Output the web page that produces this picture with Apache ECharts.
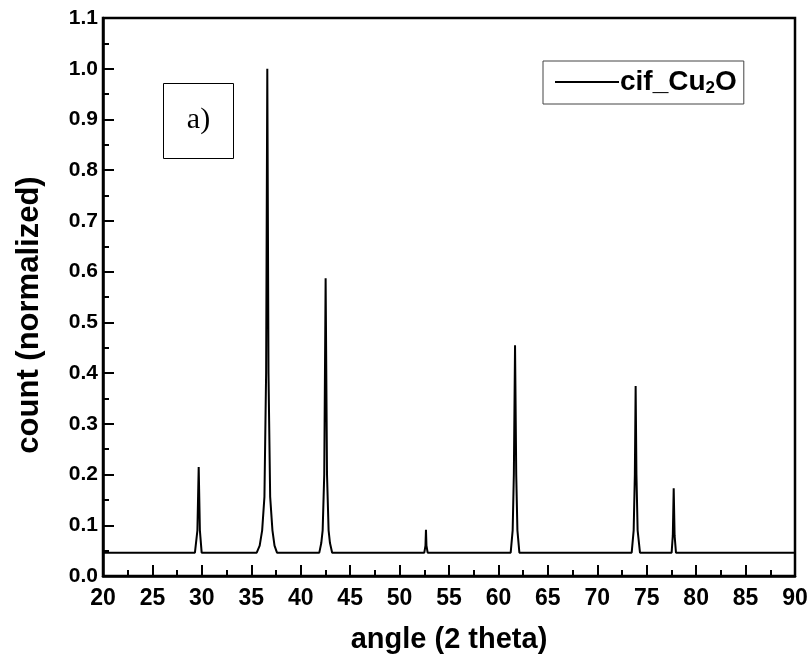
<!DOCTYPE html>
<html>
<head>
<meta charset="utf-8">
<script src="https://cdn.jsdelivr.net/npm/echarts@6/dist/echarts.min.js"></script>
<style>html,body{margin:0;padding:0;background:#fff}#c{width:812px;height:667px}</style>
</head>
<body>
<div id="c"></div>
<script>
// Data
var angle = [20, 29.30, 29.55, 29.68, 29.80, 29.98,
  35.55, 35.85, 36.10, 36.33, 36.50, 36.62, 36.74, 36.91, 37.14, 37.35, 37.60,
  41.88, 42.08, 42.22, 42.38, 42.52, 42.66, 42.82, 42.96, 43.18,
  52.50, 52.62, 52.67, 52.72, 52.84,
  61.24, 61.44, 61.56, 61.68, 61.80, 61.92, 62.12,
  73.48, 73.68, 73.80, 73.88, 73.96, 74.08, 74.32,
  77.52, 77.64, 77.73, 77.82, 77.96, 90];
var count = [0.046, 0.046, 0.09, 0.215, 0.09, 0.046,
  0.046, 0.06, 0.09, 0.156, 0.40, 1.0, 0.40, 0.156, 0.09, 0.06, 0.046,
  0.046, 0.065, 0.09, 0.20, 0.587, 0.20, 0.09, 0.065, 0.046,
  0.046, 0.06, 0.091, 0.06, 0.046,
  0.046, 0.09, 0.20, 0.455, 0.20, 0.09, 0.046,
  0.046, 0.09, 0.20, 0.3745, 0.20, 0.09, 0.046,
  0.046, 0.08, 0.173, 0.08, 0.046, 0.046];
var seriesName = 'cif_Cu2O';
var xTitle = 'angle (2 theta)';
var yTitle = 'count (normalized)';

var data = angle.map(function (a, i) { return [a, count[i]]; });
var chart = echarts.init(document.getElementById('c'));
var lab = {color: '#000', fontFamily: 'Liberation Sans, Arial', fontWeight: 'bold'};
chart.setOption({
  animation: false,
  backgroundColor: '#fff',
  grid: {left: 103, right: 17, top: 18, bottom: 91, show: true, borderColor: '#000', borderWidth: 2.5},
  legend: {
    top: 61, left: 543, padding: [7, 7, 7, 12],
    borderColor: '#444', borderWidth: 1, itemWidth: 64, itemHeight: 2, icon: 'rect', itemGap: 0,
    data: [seriesName],
    formatter: function () { return '{a|cif_Cu}{s|2}{a|O}'; },
    textStyle: {padding: [0, 0, 0, -4], rich: {
      a: {fontSize: 28, fontWeight: 'bold', fontFamily: 'Liberation Sans, Arial', color: '#000'},
      s: {fontSize: 17, fontWeight: 'bold', fontFamily: 'Liberation Sans, Arial', color: '#000', verticalAlign: 'bottom', padding: [13, 0, 0, 0]}
    }}
  },
  xAxis: {
    type: 'value', min: 20, max: 90, interval: 5,
    name: xTitle, nameLocation: 'middle', nameGap: 49,
    nameTextStyle: Object.assign({fontSize: 29}, lab),
    axisLine: {lineStyle: {color: '#000', width: 2.5}},
    axisTick: {inside: true, length: 11, lineStyle: {color: '#000', width: 2}},
    minorTick: {show: true, splitNumber: 2, length: 6, lineStyle: {color: '#000', width: 2}},
    splitLine: {show: false},
    axisLabel: Object.assign({fontSize: 23, margin: 11}, lab)
  },
  yAxis: {
    type: 'value', min: 0, max: 1.1, interval: 0.1,
    name: yTitle, nameLocation: 'middle', nameGap: 58, nameRotate: 90,
    nameTextStyle: Object.assign({fontSize: 31, padding: [0, 36, 0, 0]}, lab),
    axisLine: {lineStyle: {color: '#000', width: 2.5}},
    axisTick: {inside: true, length: 11, lineStyle: {color: '#000', width: 2}},
    minorTick: {show: true, splitNumber: 2, length: 6, lineStyle: {color: '#000', width: 2}},
    splitLine: {show: false},
    axisLabel: Object.assign({fontSize: 21, margin: 5, formatter: function (v) { return v.toFixed(1); }}, lab)
  },
  graphic: [{
    type: 'group', left: 163, top: 83,
    children: [
      {type: 'rect', shape: {x: 0, y: 0, width: 70, height: 75}, style: {fill: '#fff', stroke: '#000', lineWidth: 1}},
      {type: 'text', x: 35, y: 37, style: {text: 'a)', fontSize: 30, fontFamily: 'Liberation Serif, Times New Roman', fill: '#000', align: 'center', verticalAlign: 'middle'}}
    ]
  }],
  series: [{
    name: seriesName, type: 'line', data: data, symbol: 'none',
    lineStyle: {color: '#000', width: 2}, itemStyle: {color: '#000'}
  }]
});
</script>
</body>
</html>
